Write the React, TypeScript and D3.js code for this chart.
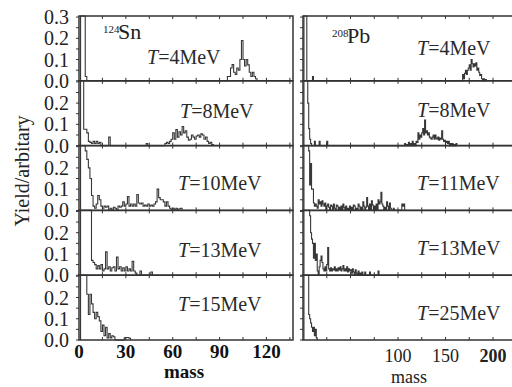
import { useEffect, useRef } from "react";
import * as d3 from "d3";

type Bin = [number, number];

// 124Sn panels, [mass, yield]
const snTemps = ["4", "8", "10", "13", "15"];
const snT4: Bin[] = [
  [1, 0.4], [2, 0.4], [3, 0.4], [4, 0.02],
  [95, 0.02], [96, 0.02], [97, 0.06], [98, 0.076], [99, 0.04], [100, 0.03], [101, 0.06], [102, 0.05],
  [103, 0.1], [104, 0.19], [105, 0.1], [106, 0.07], [107, 0.1], [108, 0.075], [109, 0.04], [110, 0.02],
  [111, 0.04], [112, 0.02], [113, 0.01],
];
const snT8: Bin[] = [
  [1, 0.4], [2, 0.4], [3, 0.077], [4, 0.077], [5, 0.06], [6, 0.02], [7, 0.015], [8, 0.01], [9, 0.02],
  [10, 0.01], [11, 0.02], [12, 0.01], [13, 0.015], [19, 0.04], [43, 0.01], [55, 0.01], [56, 0.015],
  [57, 0.01], [58, 0.02], [59, 0.03], [60, 0.06], [61, 0.03], [62, 0.075], [63, 0.04], [64, 0.065],
  [65, 0.05], [66, 0.09], [67, 0.06], [68, 0.07], [69, 0.04], [70, 0.025], [71, 0.03], [72, 0.05],
  [73, 0.04], [74, 0.03], [75, 0.045], [76, 0.05], [77, 0.04], [78, 0.055], [79, 0.05], [80, 0.03],
  [81, 0.04], [82, 0.02], [83, 0.01], [84, 0.015], [85, 0.005],
];
const snT10: Bin[] = [
  [1, 0.4], [2, 0.4], [3, 0.4], [4, 0.28], [5, 0.24], [6, 0.2], [7, 0.15], [8, 0.07], [9, 0.02],
  [10, 0.01], [11, 0.03], [12, 0.07], [13, 0.05], [14, 0.02], [15, 0.01], [16, 0.02], [17, 0.015],
  [18, 0.02], [20, 0.01], [22, 0.015], [23, 0.01], [25, 0.02], [26, 0.015], [27, 0.02], [28, 0.04],
  [29, 0.02], [30, 0.03], [31, 0.065], [32, 0.02], [33, 0.03], [34, 0.02], [35, 0.03], [36, 0.02],
  [37, 0.075], [38, 0.035], [39, 0.03], [40, 0.035], [41, 0.02], [42, 0.025], [43, 0.02], [44, 0.03],
  [45, 0.02], [46, 0.025], [47, 0.02], [48, 0.03], [49, 0.04], [50, 0.1], [51, 0.06], [52, 0.05],
  [53, 0.05], [54, 0.04], [55, 0.02], [56, 0.04], [57, 0.02], [58, 0.01], [60, 0.01], [62, 0.01],
  [64, 0.008], [65, 0.01],
];
const snT13: Bin[] = [
  [1, 0.4], [2, 0.4], [3, 0.4], [4, 0.4], [5, 0.4], [6, 0.4], [7, 0.4], [8, 0.07], [9, 0.06],
  [10, 0.05], [11, 0.03], [12, 0.045], [13, 0.03], [14, 0.05], [15, 0.02], [16, 0.03], [17, 0.11],
  [18, 0.03], [19, 0.04], [20, 0.02], [21, 0.035], [22, 0.04], [23, 0.02], [24, 0.085], [25, 0.03],
  [26, 0.04], [27, 0.02], [28, 0.035], [29, 0.02], [30, 0.04], [31, 0.02], [32, 0.03], [33, 0.02],
  [34, 0.065], [35, 0.02], [36, 0.01], [39, 0.02], [46, 0.015],
];
const snT15: Bin[] = [
  [1, 0.4], [2, 0.4], [3, 0.4], [4, 0.4], [5, 0.215], [6, 0.12], [7, 0.215], [8, 0.17], [9, 0.13],
  [10, 0.1], [11, 0.13], [12, 0.11], [13, 0.09], [14, 0.04], [15, 0.07], [16, 0.02], [17, 0.06],
  [18, 0.01], [19, 0.03], [20, 0.01], [21, 0.02], [22, 0.015], [29, 0.01], [30, 0.012], [31, 0.012],
  [32, 0.008],
];

// 208Pb panels
const pbTemps = ["4", "8", "11", "13", "25"];
const pbT4: Bin[] = [
  [1, 0.4], [2, 0.4], [3, 0.4], [10, 0.02],
  [168, 0.03], [169, 0.01], [170, 0.035], [171, 0.05], [172, 0.03], [173, 0.05], [174, 0.06],
  [175, 0.075], [176, 0.05], [177, 0.1], [178, 0.08], [179, 0.065], [180, 0.08], [181, 0.07],
  [182, 0.085], [183, 0.05], [184, 0.06], [185, 0.04], [186, 0.025], [187, 0.03], [188, 0.01],
  [190, 0.01], [192, 0.006],
];
const pbT8: Bin[] = [
  [1, 0.4], [2, 0.4], [3, 0.4], [4, 0.4], [5, 0.2], [6, 0.08], [7, 0.03], [8, 0.01], [12, 0.02],
  [17, 0.02], [25, 0.02],
  [107, 0.01], [109, 0.005], [111, 0.015], [113, 0.01], [115, 0.02], [117, 0.01], [119, 0.02],
  [120, 0.015], [121, 0.06], [122, 0.03], [123, 0.05], [124, 0.04], [125, 0.06], [126, 0.08],
  [127, 0.05], [128, 0.12], [129, 0.06], [130, 0.07], [131, 0.05], [132, 0.06], [133, 0.04],
  [134, 0.035], [135, 0.03], [136, 0.04], [137, 0.05], [138, 0.03], [139, 0.05], [140, 0.035],
  [141, 0.03], [142, 0.04], [143, 0.025], [144, 0.035], [145, 0.03], [146, 0.07], [147, 0.03],
  [148, 0.02], [149, 0.025], [150, 0.015], [151, 0.02], [152, 0.01], [153, 0.02], [155, 0.01],
  [157, 0.01], [159, 0.005], [161, 0.01],
];
const pbT11: Bin[] = [
  [1, 0.4], [2, 0.4], [3, 0.4], [4, 0.4], [5, 0.4], [6, 0.28], [7, 0.12], [8, 0.22], [9, 0.1],
  [10, 0.1], [11, 0.035], [12, 0.02], [13, 0.03], [14, 0.02], [15, 0.01], [16, 0.05], [17, 0.03],
  [18, 0.04], [19, 0.02], [20, 0.045], [21, 0.03], [22, 0.02], [23, 0.035], [25, 0.02], [26, 0.03],
  [27, 0.015], [29, 0.025], [30, 0.02], [32, 0.03], [33, 0.01], [35, 0.025], [36, 0.02], [38, 0.015],
  [40, 0.02], [42, 0.03], [43, 0.015], [45, 0.02], [47, 0.01], [49, 0.02], [51, 0.015], [53, 0.025],
  [54, 0.02], [56, 0.01], [58, 0.03], [59, 0.02], [61, 0.015], [63, 0.04], [64, 0.02], [66, 0.015],
  [67, 0.06], [68, 0.02], [70, 0.03], [72, 0.045], [73, 0.025], [75, 0.02], [77, 0.03], [79, 0.05],
  [80, 0.03], [81, 0.04], [82, 0.085], [83, 0.03], [84, 0.02], [86, 0.015], [88, 0.04], [89, 0.02],
  [91, 0.035], [92, 0.01], [95, 0.01], [104, 0.03], [105, 0.02], [106, 0.03],
];
const pbT13: Bin[] = [
  [1, 0.4], [2, 0.4], [3, 0.4], [4, 0.4], [5, 0.4], [6, 0.4], [7, 0.28], [8, 0.2], [9, 0.17],
  [10, 0.15], [11, 0.08], [12, 0.15], [13, 0.07], [14, 0.1], [15, 0.02], [16, 0.005], [17, 0.04],
  [18, 0.07], [19, 0.09], [20, 0.06], [21, 0.03], [22, 0.02], [23, 0.04], [24, 0.02], [25, 0.05],
  [26, 0.13], [27, 0.03], [28, 0.02], [29, 0.035], [30, 0.02], [31, 0.03], [32, 0.025], [33, 0.04],
  [34, 0.02], [35, 0.03], [36, 0.02], [37, 0.035], [38, 0.025], [39, 0.04], [40, 0.02], [41, 0.03],
  [42, 0.045], [43, 0.02], [44, 0.03], [45, 0.02], [46, 0.04], [47, 0.015], [48, 0.03], [49, 0.02],
  [50, 0.025], [51, 0.01], [52, 0.03], [53, 0.015], [55, 0.025], [56, 0.01], [58, 0.02], [60, 0.01],
  [62, 0.015], [65, 0.015], [70, 0.015], [79, 0.02],
];
const pbT25: Bin[] = [
  [1, 0.4], [2, 0.4], [3, 0.4], [4, 0.4], [5, 0.4], [6, 0.12], [7, 0.1], [8, 0.08], [9, 0.06],
  [10, 0.04], [11, 0.06], [12, 0.02], [13, 0.05], [14, 0.01],
];

const yTicksFirst = [0, 0.1, 0.2, 0.3];
const yTicksRest = [0, 0.1, 0.2];
const snXTicks = [0, 30, 60, 90, 120];
const pbXTicks = [100, 150, 200];

export default function App() {
  const svgRef = useRef<SVGSVGElement>(null);

  useEffect(() => {
    const svg = d3.select(svgRef.current);
    svg.selectAll("*").remove();

    const width = 512;
    const height = 387;
    const top = 16;
    const ph = 64.8;
    const yMax = 0.305;
    const ink = "#333";
    const serif = "Times New Roman, Liberation Serif, DejaVu Serif, serif";

    svg.attr("width", width).attr("height", height);
    svg.append("rect").attr("width", width).attr("height", height).attr("fill", "#fff");

    const cols = [
      {
        x: d3.scaleLinear().domain([0, 137]).range([79, 293]),
        series: [snT4, snT8, snT10, snT13, snT15],
        temps: snTemps,
        tickStep: 15,
        // label start x and baseline offset from the panel's zero line
        labelPos: [[147, -17], [180, -28], [178, -20], [178, -18], [178, -29]],
      },
      {
        x: d3.scaleLinear().domain([0, 225]).range([303, 516.75]),
        series: [pbT4, pbT8, pbT11, pbT13, pbT25],
        temps: pbTemps,
        tickStep: 25,
        labelPos: [[417, -26], [417, -29], [417, -20], [417, -20], [417, -20]],
      },
    ];

    cols.forEach((col, ci) => {
      const [x0, x1] = col.x.range();
      const dMax = col.x.domain()[1];

      col.series.forEach((bins, i) => {
        const y = d3.scaleLinear().domain([0, yMax]).range([top + ph * (i + 1), top + ph * i]);
        const g = svg.append("g");

        // histogram as a step line
        const lookup = new Map(bins.map(d => [d[0], d[1]]));
        const first = bins[0][0];
        const last = bins[bins.length - 1][0];
        const pts: Bin[] = [[first, 0]];
        for (let m = first; m <= last; m++) pts.push([m, Math.min(lookup.get(m) ?? 0, yMax)]);
        pts.push([last + 1, 0]);
        const line = d3.line<Bin>()
          .x(d => col.x(d[0]))
          .y(d => y(d[1]))
          .curve(d3.curveStepAfter);
        g.append("path")
          .attr("d", line(pts))
          .attr("fill", "none")
          .attr("stroke", "#383838")
          .attr("stroke-width", 1.1);

        // frame
        g.append("rect")
          .attr("x", x0).attr("y", y(yMax))
          .attr("width", x1 - x0).attr("height", y(0) - y(yMax))
          .attr("fill", "none")
          .attr("stroke", ink)
          .attr("stroke-width", 1.5);

        // inner x ticks, top and bottom
        d3.range(col.tickStep, dMax, col.tickStep).forEach(t => {
          const tx = col.x(t);
          g.append("line").attr("x1", tx).attr("x2", tx)
            .attr("y1", y(yMax)).attr("y2", y(yMax) + 3)
            .attr("stroke", ink).attr("stroke-width", 1);
          g.append("line").attr("x1", tx).attr("x2", tx)
            .attr("y1", y(0)).attr("y2", y(0) - 3)
            .attr("stroke", ink).attr("stroke-width", 1);
        });

        // outer y ticks every 0.05
        d3.range(0, 0.31, 0.05).forEach(t => {
          g.append("line").attr("x1", x0 - 3).attr("x2", x0)
            .attr("y1", y(t)).attr("y2", y(t))
            .attr("stroke", ink).attr("stroke-width", 1);
        });

        // y tick labels on the left column only
        if (ci === 0) {
          (i === 0 ? yTicksFirst : yTicksRest).forEach(t => {
            g.append("text")
              .attr("x", 69).attr("y", y(t))
              .attr("text-anchor", "end")
              .attr("dominant-baseline", "central")
              .attr("font-family", serif)
              .attr("font-size", 20)
              .attr("fill", "#222")
              .text(t.toFixed(1));
          });
        }

        // temperature label
        const [lx, ly] = col.labelPos[i];
        const lab = g.append("text")
          .attr("x", lx).attr("y", y(0) + ly)
          .attr("font-family", serif)
          .attr("font-size", 20)
          .attr("fill", "#2a2a2a");
        lab.append("tspan").attr("font-style", "italic").text("T");
        lab.append("tspan").text(`=${col.temps[i]}MeV`);
      });
    });

    // nucleus labels
    const nucl = (x: number, yb: number, mass: string, sym: string) => {
      svg.append("text").attr("x", x).attr("y", yb - 6)
        .attr("font-family", serif).attr("font-size", 11).attr("fill", "#222").text(mass);
      svg.append("text").attr("x", x + 15).attr("y", yb)
        .attr("font-family", serif).attr("font-size", 22).attr("fill", "#222").text(sym);
    };
    nucl(103, 39, "124", "Sn");
    nucl(332, 43, "208", "Pb");

    // x tick labels
    const snX = cols[0].x;
    snXTicks.forEach(t => {
      svg.append("text")
        .attr("x", snX(t)).attr("y", 358)
        .attr("text-anchor", "middle")
        .attr("font-family", serif).attr("font-size", 19).attr("font-weight", "bold")
        .attr("fill", "#111")
        .text(t);
    });
    const pbX = cols[1].x;
    pbXTicks.forEach(t => {
      svg.append("text")
        .attr("x", pbX(t)).attr("y", 362)
        .attr("text-anchor", "middle")
        .attr("font-family", serif).attr("font-size", 18)
        .attr("font-weight", t === 200 ? "bold" : "normal")
        .attr("fill", "#222")
        .text(t);
    });

    // axis titles
    svg.append("text")
      .attr("x", 184).attr("y", 378)
      .attr("text-anchor", "middle")
      .attr("font-family", serif).attr("font-size", 19).attr("font-weight", "bold")
      .attr("fill", "#111")
      .text("mass");
    svg.append("text")
      .attr("x", 409).attr("y", 383)
      .attr("text-anchor", "middle")
      .attr("font-family", serif).attr("font-size", 18)
      .attr("fill", "#222")
      .text("mass");
    svg.append("text")
      .attr("transform", "translate(29,171) rotate(-90)")
      .attr("text-anchor", "middle")
      .attr("font-family", serif).attr("font-size", 20)
      .attr("fill", "#222")
      .text("Yield/arbitary");
  }, []);

  return <svg ref={svgRef} style={{ position: "absolute", left: 0, top: 0 }} />;
}
